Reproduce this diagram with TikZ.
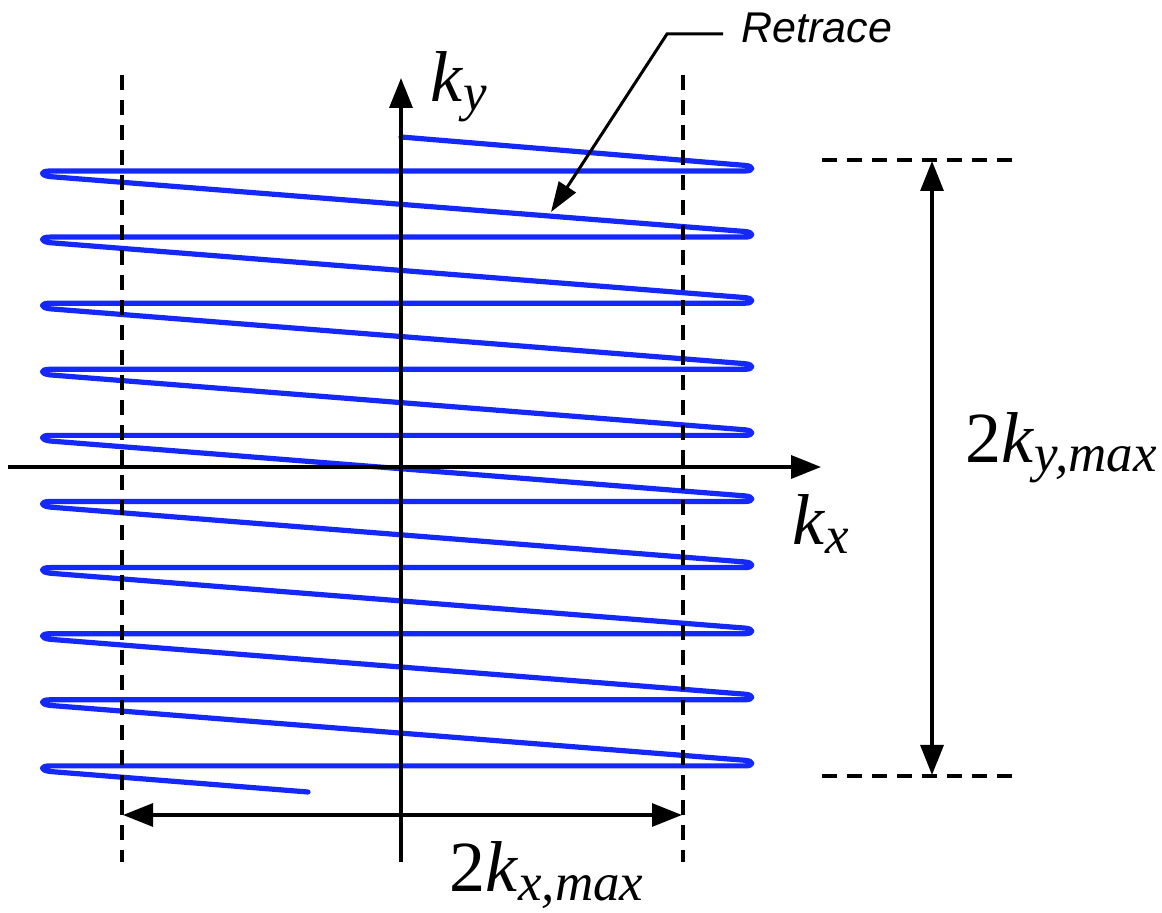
\documentclass[tikz,border=0pt]{standalone}
\usepackage{fontspec}
\setmainfont{Liberation Serif}
\newfontfamily\labelsans{Liberation Sans}
\usetikzlibrary{arrows.meta,positioning}
\definecolor{scanblue}{RGB}{20,40,250}
\newcommand{\ksub}[2][]{#1\textit{k}\raisebox{-4.5pt}{\fontsize{26.5}{27}\selectfont\itshape #2}}

\begin{document}
\begin{tikzpicture}[x=.5pt,y=-.5pt,
    axis/.style={line width=1.7pt,-{Triangle[length=15pt,width=11.5pt]}},
    span/.style={line width=1.6pt,{Triangle[length=15pt,width=11.5pt]}-{Triangle[length=15pt,width=11.5pt]}},
    guide/.style={line width=1.6pt,dash pattern=on 7.5pt off 5pt},
    pointer/.style={line width=1.5pt,-{Triangle[length=15pt,width=10pt]}},
    scan/.style={scanblue,line width=2.6pt,line join=round,line cap=round},
    lbl/.style={anchor=base west,inner sep=0pt,font=\fontsize{36}{40}\selectfont}]
    \useasboundingbox (0,0) rectangle (1162,913);
    % EPI trajectory
    \draw[scan] (401,137)
      \foreach \i in {0,...,9} {
        -- (745,{171+66.1*\i-5.6}) .. controls (754,{171+66.1*\i-4.9}) and (754,{171+66.1*\i}) .. (745,{171+66.1*\i})
        -- (50,{171+66.1*\i}) .. controls (40,{171+66.1*\i}) and (40,{171+66.1*\i+4.4}) .. (50,{171+66.1*\i+5.6})
      } -- (308,792);
    % kx / ky axes
    \coordinate (O) at (401,467);
    \coordinate (kxL) at (8,467);
    \coordinate (kxR) at (821,467);
    \coordinate (kyB) at (401,862);
    \coordinate (kyT) at (401,78);
    \draw[axis] (kxL) -- (kxR);
    \draw[axis] (kyB) -- (kyT);
    \node[lbl] (ky) at (430,102) {\ksub{y}};
    \node[lbl] (kx) at (792,545) {\ksub{x}};
    % kx,max limits
    \foreach \x/\n in {122/L,683/R} {
      \coordinate (lim\n T) at (\x,75);
      \coordinate (lim\n B) at (\x,862);
      \draw[guide] (lim\n T) -- (lim\n B);
    }
    \coordinate (spanxL) at (123,815);
    \coordinate (spanxR) at (682,815);
    \draw[span] (spanxL) -- (spanxR);
    \node[lbl] (kxmax) at (449,892) {\ksub[2]{x,max}};
    % ky,max limits
    \foreach \y/\n in {160/T,776/B} {
      \coordinate (lev\n L) at (822,\y);
      \coordinate (lev\n R) at (1014,\y);
      \draw[guide] (lev\n L) -- (lev\n R);
    }
    \coordinate (spanyT) at (932,161);
    \coordinate (spanyB) at (932,775);
    \draw[span] (spanyT) -- (spanyB);
    \node[lbl] (kymax) at (965,463) {\ksub[2]{y,max}};
    % retrace label
    \node[anchor=base west,inner sep=0pt,font=\labelsans\itshape\fontsize{21.5}{24}\selectfont] (retrace) at (741,43) {Retrace};
    \coordinate (bend) at (667,34);
    \coordinate (hit) at (551,212);
    \draw[pointer] ([xshift=-9pt,yshift=4.5pt]retrace.base west) -- (bend) -- (hit);
  \end{tikzpicture}
\end{document}
